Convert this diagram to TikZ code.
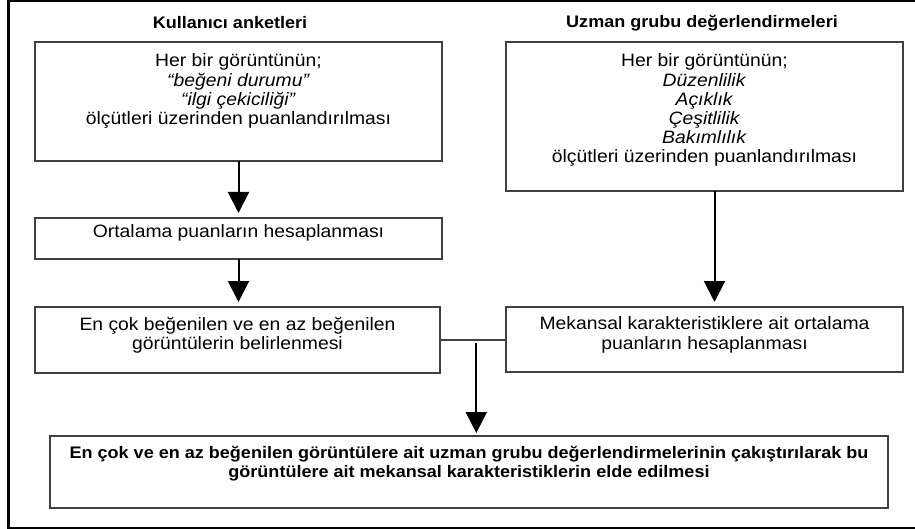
\documentclass[tikz,border=0pt]{standalone}
\usepackage{fontspec}
\setmainfont{Liberation Sans}[FakeStretch=1.08]
\usepackage{tikz}
\usetikzlibrary{arrows.meta,positioning,calc}

\begin{document}
\begin{tikzpicture}[
        x=1pt, y=-1pt,
        font=\fontsize{17.9}{19.2}\selectfont,
        block/.style 2 args={rectangle, draw=black!75, line width=1.3pt, minimum width=#1, minimum height=#2, inner sep=0pt, outer sep=0pt, anchor=north west},
        txt/.style={inner sep=0pt, outer sep=0pt, align=center},
        head/.style={font=\bfseries\fontsize{16.7}{19.5}\selectfont},
        arrow/.style={-{Triangle[length=21pt,width=21pt]}, line width=2pt, shorten >=5pt}
    ]
        \clip (0,0) rectangle (915,529);
        \draw[line width=3pt] (8.5,0.5) rectangle (940,528);

        \node[head] (userHead) at (230,23) {Kullanıcı anketleri};
        \node[head] (expertHead) at (702,23) {Uzman grubu değerlendirmeleri};

        \node[block={407pt}{119pt}] (survey) at (35,42) {};
        \node[txt, below=12pt of survey.north] (surveyText) {Her bir görüntünün;\\\textit{“beğeni durumu”}\\\textit{“ilgi çekiciliği”}\\ölçütleri üzerinden puanlandırılması};

        \node[block={407pt}{41pt}] (avg) at (35,218) {};
        \node[txt, below=7pt of avg.north] (avgText) {Ortalama puanların hesaplanması};

        \node[block={405pt}{66pt}] (pick) at (35,307) {};
        \node[txt, below=10pt of pick.north] (pickText) {En çok beğenilen ve en az beğenilen\\görüntülerin belirlenmesi};

        \node[block={397pt}{149pt}] (expert) at (506,42) {};
        \node[txt, below=12pt of expert.north] (expertText) {Her bir görüntünün;\\\textit{Düzenlilik}\\\textit{Açıklık}\\\textit{Çeşitlilik}\\\textit{Bakımlılık}\\ölçütleri üzerinden puanlandırılması};

        \node[block={397pt}{65pt}] (spat) at (506,307) {};
        \node[txt, below=10pt of spat.north] (spatText) {Mekansal karakteristiklere ait ortalama\\puanların hesaplanması};

        \node[block={838pt}{72pt}] (result) at (50,436) {};
        \node[txt, head, below=10pt of result.north] (resultText) {En çok ve en az beğenilen görüntülere ait uzman grubu değerlendirmelerinin çakıştırılarak bu\\görüntülere ait mekansal karakteristiklerin elde edilmesi};

        \draw[arrow] (survey.south) -- (avg.north);
        \draw[arrow] (avg.south) -- (avg.south |- pick.north);
        \draw[arrow] ([xshift=10pt]expert.south) -- ([xshift=10pt]spat.north);
        \draw[draw=black!75, line width=1.3pt] (pick.east) -- (pick.east -| spat.west);
        \coordinate (join) at ($(pick.east)!0.55!(spat.west)$);
        \draw[arrow, shorten >=3pt] ([yshift=-3pt]join) -- (join |- result.north);
    \end{tikzpicture}
\end{document}
